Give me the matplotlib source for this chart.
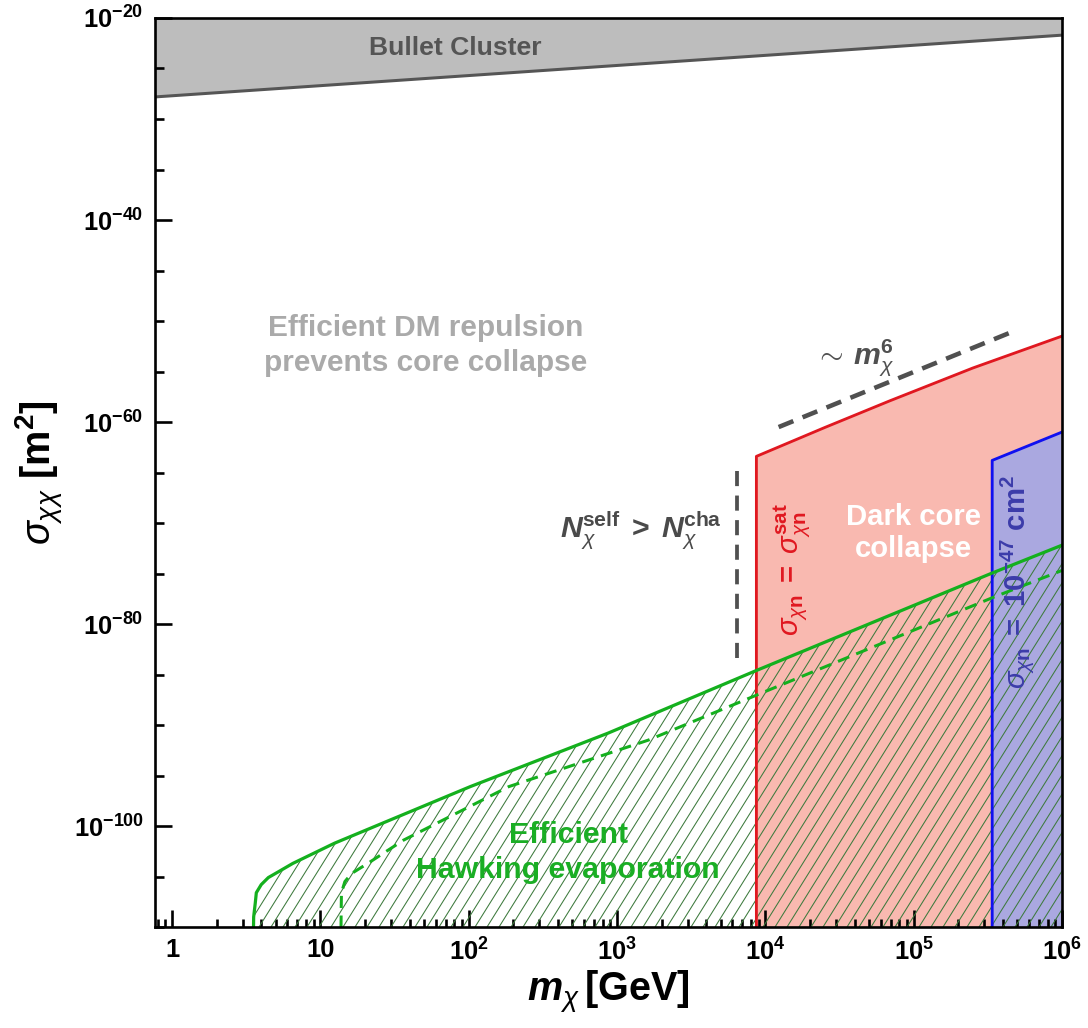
import numpy as np
import matplotlib.pyplot as plt
from matplotlib.collections import LineCollection
from matplotlib.ticker import FixedLocator, FixedFormatter, NullFormatter

plt.rcParams['font.family'] = ['Liberation Sans', 'DejaVu Sans']
plt.rcParams['font.weight'] = 'bold'
plt.rcParams['mathtext.fontset'] = 'custom'
plt.rcParams['mathtext.rm'] = 'Liberation Sans:bold'
plt.rcParams['mathtext.bf'] = 'Liberation Sans:bold'
plt.rcParams['mathtext.it'] = 'Liberation Sans:italic:normal'
plt.rcParams['mathtext.bfit'] = 'Liberation Sans:italic:bold'
plt.rcParams['mathtext.sf'] = 'Liberation Sans:bold'

# log10 of DM mass [GeV] and cross section [m^2]
xlim_log = (-0.115, 6.0)
ylim_log = (-110.0, -20.0)
floor_log = -112.0

bullet_logm = [-0.2, 6.0]
bullet_logsig = [-27.9, -21.7]

hawking_logm = [0.547, 0.550, 0.561, 0.568, 0.601, 0.649, 0.72, 0.814, 1.095,
                2.01, 2.94, 3.94, 5.53, 6.0]
hawking_logsig = [-112.0, -109.0, -107.6, -106.6, -105.8, -105.1, -104.5, -103.7,
                  -101.7, -96.1, -90.8, -84.6, -74.95, -72.2]

hawking2_logm = [1.138, 1.140, 1.142, 1.165, 1.21, 1.33, 1.56, 2.27, 3.21, 3.98,
                 5.53, 6.0]
hawking2_logsig = [-112.0, -108.5, -106.6, -105.5, -104.7, -103.6, -101.4, -96.1,
                   -91.5, -86.8, -77.4, -74.7]

sat_logm = [3.94, 4.4, 4.84, 5.4, 6.0]
sat_logsig = [-63.4, -60.55, -57.9, -54.65, -51.5]

lux_logm = [5.53, 6.0]
lux_logsig = [-63.8, -61.0]

nself_logm = [3.81, 3.81]
nself_logsig = [-64.8, -84.1]

slope6_logm = [4.09, 5.66]
slope6_logsig = [-60.5, -51.1]

xtick_exp = [0, 1, 2, 3, 4, 5, 6]
xtick_labels = ['1', '10', '$10^{2}$', '$10^{3}$', '$10^{4}$', '$10^{5}$', '$10^{6}$']
ytick_exp = [-100, -80, -60, -40, -20]
ytick_labels = ['$10^{-100}$', '$10^{-80}$', '$10^{-60}$', '$10^{-40}$', '$10^{-20}$']


def p10(v):
    return 10.0 ** np.asarray(v, dtype=float)


W, H, DPI = 1088, 1028, 136
fig = plt.figure(figsize=(W / DPI, H / DPI), dpi=DPI)
ax = fig.add_axes([0.1425, 0.0982, 0.8335, 0.8843])
ax.set_xscale('log')
ax.set_yscale('log')
ax.set_xlim(p10(xlim_log[0]), p10(xlim_log[1]))
ax.set_ylim(p10(ylim_log[0]), p10(ylim_log[1]))

# Bullet Cluster exclusion
bm = p10(bullet_logm)
ax.fill_between(bm, p10(bullet_logsig), 1e-10, color='#bdbdbd', lw=0, zorder=1)
ax.plot(bm, p10(bullet_logsig), color='#555555', lw=1.6, zorder=2)

# dark core collapse region (red) and direct detection bound (blue)
sm = p10(sat_logm)
ax.fill_between(sm, p10(floor_log), p10(sat_logsig), color='#f9b9b0', lw=0, zorder=1)
ax.plot([sm[0]] + list(sm), [p10(floor_log)] + list(p10(sat_logsig)),
        color='#e01820', lw=1.5, zorder=4)
lm = p10(lux_logm)
ax.fill_between(lm, p10(floor_log), p10(lux_logsig), color='#aaa8e0', lw=0, zorder=1.5)
ax.plot([lm[0]] + list(lm), [p10(floor_log)] + list(p10(lux_logsig)),
        color='#1010f0', lw=1.5, zorder=4)

# Hawking evaporation region: steep diagonal hatching clipped to the region
hm = p10(hawking_logm)
region = ax.fill_between(hm, p10(floor_log), p10(hawking_logsig), facecolor='none',
                         lw=0, zorder=2)
pos = ax.get_position()
aw, ah = pos.width * W, pos.height * H
step, angle = 12.0, np.deg2rad(58)
run = ah / np.tan(angle)
offsets = np.arange(-run, aw + step, step)
segs = [[(c / aw, 0.0), ((c + run) / aw, 1.0)] for c in offsets]
hatch = LineCollection(segs, colors='#3d7a3d', linewidths=0.55,
                       transform=ax.transAxes, zorder=2.5)
ax.add_collection(hatch)
hatch.set_clip_path(region.get_paths()[0], ax.transData)

ax.plot(hm, p10(hawking_logsig), color='#14b01e', lw=1.7, zorder=5)
ax.plot(p10(hawking2_logm), p10(hawking2_logsig), color='#14b01e', lw=1.6,
        ls=(0, (4, 2.5)), zorder=5)

# guide lines
ax.plot(p10(nself_logm), p10(nself_logsig), color='#505050', lw=2.0,
        ls=(0, (4, 2.5)), zorder=3)
ax.plot(p10(slope6_logm), p10(slope6_logsig), color='#505050', lw=2.4,
        ls=(0, (3.5, 2.2)), zorder=3)

# labels inside the plot
ax.text(p10(1.91), p10(-23.0), 'Bullet Cluster', color='#555555', fontsize=14,
        ha='center', va='center', zorder=6)
ax.text(p10(1.71), p10(-52.4), 'Efficient DM repulsion\nprevents core collapse',
        color='#aaaaaa', fontsize=15.8, ha='center', va='center', linespacing=1.3,
        zorder=6)
ax.text(p10(4.6), p10(-53.6), r'$\mathrm{\sim}\:\mathbfit{m}_{\chi}^{\mathrm{6}}$',
        color='#505050', fontsize=16, ha='center', va='center', zorder=6)
ax.text(p10(3.16), p10(-70.8),
        r'$\mathbfit{N}_{\chi}^{\mathrm{self}}\;>\;\mathbfit{N}_{\chi}^{\mathrm{cha}}$',
        color='#4a4a4a', fontsize=16, ha='center', va='center', zorder=6)
ax.text(p10(4.18), p10(-74.6),
        r'$\sigma_{\chi\mathrm{n}}\;=\;\sigma_{\chi\mathrm{n}}^{\mathrm{sat}}$',
        color='#e01820', fontsize=15.5, rotation=90, ha='center', va='center', zorder=6)
ax.text(p10(5.0), p10(-71.0), 'Dark core\ncollapse', color='white',
        fontsize=15.5, ha='center', va='center', linespacing=1.2, zorder=6)
ax.text(p10(5.70), p10(-75.8),
        r'$\sigma_{\chi\mathrm{n}}\;=\;\mathrm{10^{-47}\ cm^{2}}$',
        color='#3c3caa', fontsize=15.5, rotation=90, ha='center', va='center', zorder=6)
ax.text(p10(2.67), p10(-102.6), 'Efficient\nHawking evaporation', color='#1aae24',
        fontsize=16, ha='center', va='center', linespacing=1.3, zorder=6)

# axes styling
ax.xaxis.set_major_locator(FixedLocator(p10(xtick_exp)))
ax.xaxis.set_major_formatter(FixedFormatter(xtick_labels))
minor_x = [k * 10.0 ** d for d in range(-1, 6) for k in range(2, 10)]
ax.xaxis.set_minor_locator(FixedLocator(minor_x))
ax.xaxis.set_minor_formatter(NullFormatter())
ax.yaxis.set_major_locator(FixedLocator(p10(ytick_exp)))
ax.yaxis.set_major_formatter(FixedFormatter(ytick_labels))
ax.yaxis.set_minor_locator(FixedLocator(p10(np.arange(-110, -19, 5))))
ax.yaxis.set_minor_formatter(NullFormatter())

ax.tick_params(which='both', direction='in', top=False, right=False, width=1.4,
               labelsize=13.5, zorder=7)
ax.tick_params(which='major', length=9, pad=6)
ax.tick_params(which='minor', length=4.5)
for sp in ax.spines.values():
    sp.set_linewidth(1.4)
    sp.set_zorder(8)

ax.set_xlabel(r'$\mathbfit{m}_{\chi}\,\mathrm{[GeV]}$', fontsize=21, labelpad=2)
ax.set_ylabel(r'$\sigma_{\chi\chi}\ \mathrm{[m^{2}]}$', fontsize=21, labelpad=4)

fig.savefig('out.png', dpi=DPI)
